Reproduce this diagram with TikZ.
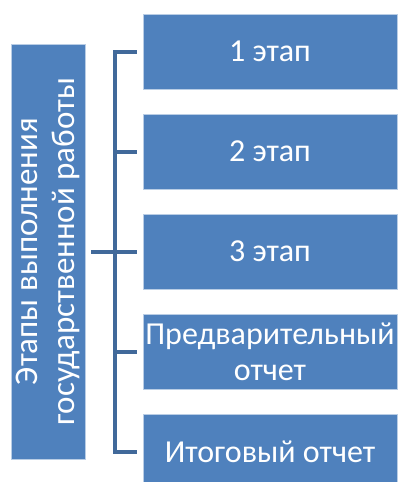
\documentclass[tikz,border=0pt]{standalone}
\usepackage{fontspec}
\setmainfont{Carlito}
\usetikzlibrary{positioning}

\definecolor{boxblue}{RGB}{79,129,189}
\definecolor{edgeblue}{RGB}{185,205,229}
\definecolor{linkblue}{RGB}{65,105,154}

\tikzset{
  stagebox/.style={rectangle, fill=boxblue, draw=edgeblue, line width=0.75pt,
    minimum width=254pt, minimum height=75pt, inner sep=0pt, align=center,
    text=white, font=\fontsize{32}{36}\selectfont},
  link/.style={draw=linkblue, line width=4pt}
}

\begin{document}
\begin{tikzpicture}[x=1pt,y=-1pt]
			\useasboundingbox (0,0) rectangle (398,482);
			% Title column
			\node (side) [stagebox, rotate=90, minimum width=415pt, minimum height=74pt,
			  font=\fontsize{33}{37}\selectfont]
			  at (48,251.5) {Этапы выполнения\\государственной работы};
			% Stages
			\node (s1) [stagebox] at (270,51.5) {1 этап};
			\node (s2) [stagebox] at (270,151.5) {2 этап};
			\node (s3) [stagebox] at (270,251.5) {3 этап};
			\node (s4) [stagebox] at (270,351.5) {Предварительный\\отчет};
			\node (s5) [stagebox] at (270,452) {Итоговый отчет};
			% Bracket
			\coordinate (trunk) at (115,251.5);
			\draw[link, shorten <=6pt, shorten >=6pt] (s1.west) -| (trunk) |- (s5.west);
			\foreach \s in {s2,s3,s4}
			  \draw[link, shorten >=6pt] (trunk |- \s.west) -- (\s.west);
			\draw[link, shorten <=6pt] (side.south) -- (trunk);
		\end{tikzpicture}
\end{document}
